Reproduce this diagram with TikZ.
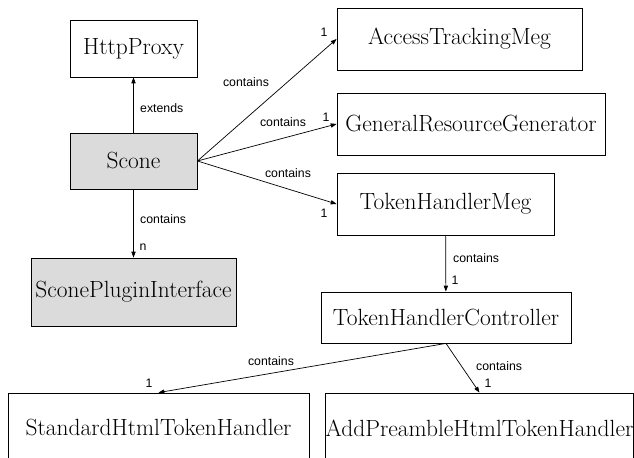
\documentclass[tikz,border=0pt]{standalone}
\usepackage{fontspec}
\setsansfont{Liberation Sans}
\usetikzlibrary{arrows.meta}

\begin{document}
\begin{tikzpicture}[x=0.03cm, y=-0.03cm,
  box/.style={draw, line width=0.7pt, fill=white, inner sep=0pt, font=\rmfamily\fontsize{20}{23}\selectfont},
  shaded/.style={box, fill=black!14},
  lbl/.style={inner sep=0pt, font=\sffamily\fontsize{10.5}{12}\selectfont},
  rel/.style={-{Triangle[length=5pt,width=3.6pt]}, line width=0.6pt}]
  \clip (0,0) rectangle (634,458);
  \fill[white] (0,0) rectangle (634,458);
  % classes
  \node[box, minimum width=3.81cm, minimum height=1.71cm] (hp) at (133.5,48.5) {HttpProxy};
  \node[shaded, minimum width=3.81cm, minimum height=1.68cm] (scone) at (133.5,161) {Scone};
  \node[shaded, minimum width=6.15cm, minimum height=2.04cm] (spi) at (133.5,292) {SconePluginInterface};
  \node[box, minimum width=7.35cm, minimum height=1.86cm] (atm) at (459.5,39) {AccessTrackingMeg};
  \node[box, minimum width=8.04cm, minimum height=1.86cm] (grg) at (471,124) {GeneralResourceGenerator};
  \node[box, minimum width=6.51cm, minimum height=1.86cm] (thm) at (445.5,204) {TokenHandlerMeg};
  \node[box, minimum width=7.5cm, minimum height=1.53cm] (thc) at (446,317.5) {TokenHandlerController};
  \node[box, minimum width=9.03cm, minimum height=2.1cm] (sht) at (158.5,428) {StandardHtmlTokenHandler};
  \node[box, minimum width=9.15cm, minimum height=2.1cm] (apt) at (479.5,428) {AddPreambleHtmlTokenHandler};
  % relations
  \draw[rel] (scone) -- (hp);
  \draw[rel] (scone) -- (spi);
  \draw[rel] (scone.east) -- (atm.west);
  \draw[rel] (scone.east) -- (grg.west);
  \draw[rel] (scone.east) -- (thm.west);
  \draw[rel] (thm) -- (thc);
  \draw[rel] (thc.south) -- (sht.north);
  \draw[rel] (thc.south) -- (apt.north);
  % labels
  \node[lbl, anchor=west] (l1) at (140,108) {extends};
  \node[lbl, anchor=west] (l2) at (140,219) {contains};
  \node[lbl] (m2) at (143,247) {n};
  \node[lbl] (l3) at (246,82) {contains};
  \node[lbl] (m3) at (324,32) {1};
  \node[lbl] (l4) at (283,122) {contains};
  \node[lbl] (m4) at (326,117) {1};
  \node[lbl] (l5) at (288,173) {contains};
  \node[lbl] (m5) at (324,213) {1};
  \node[lbl, anchor=west] (l6) at (453,258) {contains};
  \node[lbl] (m6) at (455,280) {1};
  \node[lbl] (l7) at (271,361) {contains};
  \node[lbl] (m7) at (149,383) {1};
  \node[lbl, anchor=west] (l8) at (476,366) {contains};
  \node[lbl] (m8) at (488,383) {1};
\end{tikzpicture}
\end{document}
